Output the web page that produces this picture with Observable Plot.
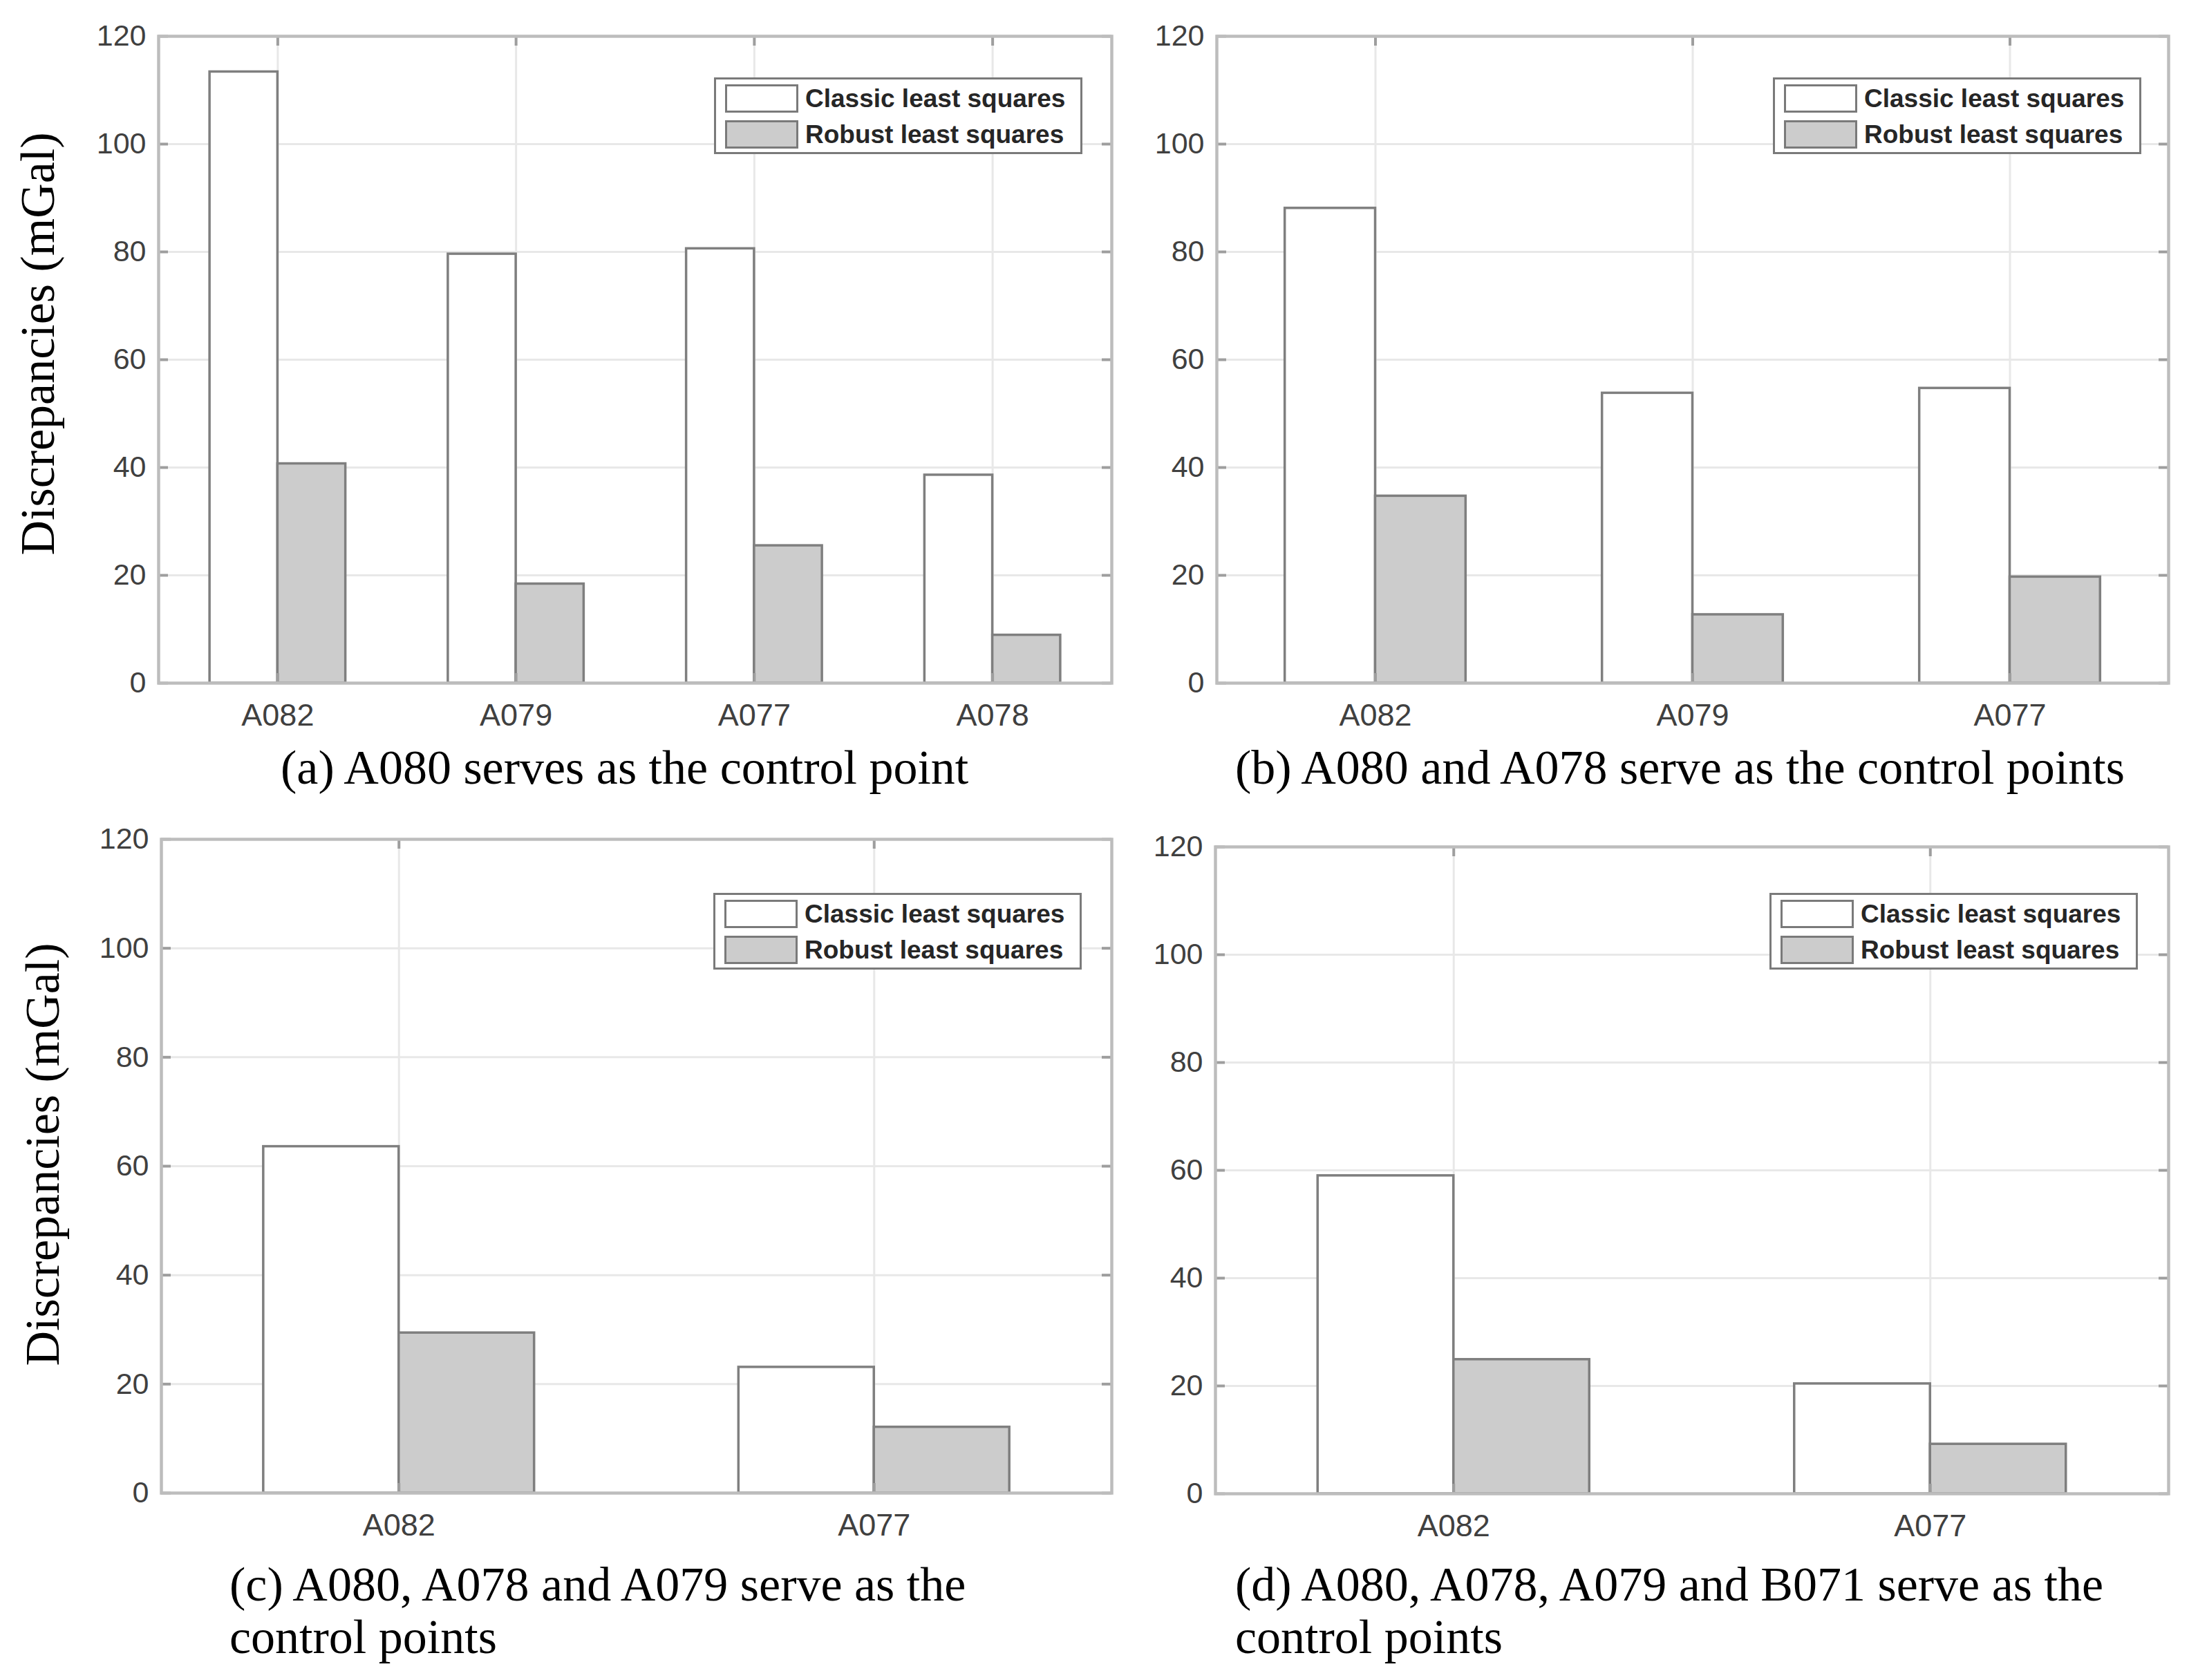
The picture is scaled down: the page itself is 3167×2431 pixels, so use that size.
<!DOCTYPE html>
<html><head><meta charset="utf-8">
<script src="https://cdn.jsdelivr.net/npm/d3@7"></script>
<script src="https://cdn.jsdelivr.net/npm/@observablehq/plot@0.6"></script>
<style>
body{margin:0;background:#fff;}
#page{position:relative;width:3167px;height:2431px;background:#fff;overflow:hidden;}
.panel{position:absolute;}
.legend{position:absolute;box-sizing:border-box;width:533px;height:111px;border:3px solid #7a7a7a;background:#fff;font-family:"Liberation Sans",Arial,sans-serif;font-weight:bold;font-size:37px;color:#262626;}
.legend .row{position:absolute;left:13px;display:flex;align-items:center;height:41px;white-space:nowrap;}
.legend .sw{box-sizing:border-box;width:106px;height:41px;border:3px solid #7a7a7a;margin-right:10px;}
.caption{position:absolute;font-family:"Liberation Serif","Times New Roman",serif;font-size:70px;color:#000;line-height:76px;white-space:nowrap;}
</style></head>
<body><div id="page"></div>
<script>
// ---------- data ----------
const seriesNames = ["Classic least squares", "Robust least squares"];
const seriesFills = ["#ffffff", "#cccccc"];
const yTicks = [0, 20, 40, 60, 80, 100, 120];
const yLabel = "Discrepancies (mGal)";

const catsA = ["A082", "A079", "A077", "A078"];
const classicA = [113.4, 79.6, 80.6, 38.6];
const robustA = [40.7, 18.4, 25.5, 8.9];

const catsB = ["A082", "A079", "A077"];
const classicB = [88.1, 53.8, 54.7];
const robustB = [34.7, 12.7, 19.7];

const catsC = ["A082", "A077"];
const classicC = [63.6, 23.1];
const robustC = [29.4, 12.1];

const catsD = ["A082", "A077"];
const classicD = [59.0, 20.4];
const robustD = [24.9, 9.2];

const captionA = ["(a) A080 serves as the control point"];
const captionB = ["(b) A080 and A078 serve as the control points"];
const captionC = ["(c) A080, A078 and A079 serve as the", "control points"];
const captionD = ["(d) A080, A078, A079 and B071 serve as the", "control points"];

// ---------- layout (page pixels) ----------
const BW = 0.285; // bar width in category units
const layouts = [
  {cats: catsA, classic: classicA, robust: robustA, caption: captionA, label: true,
   frame: {left: 229, right: 1608, top: 52, bottom: 988}, svg: {x: 0, y: 0, w: 1640, h: 1075},
   legend: {x: 1033, y: 112}, cap: {x: 406, base: 1135}, labelDx: -174, labelDy: -23},
  {cats: catsB, classic: classicB, robust: robustB, caption: captionB, label: false,
   frame: {left: 1760, right: 3137, top: 52, bottom: 988}, svg: {x: 1640, y: 0, w: 1527, h: 1075},
   legend: {x: 2565, y: 112}, cap: {x: 1787, base: 1135}},
  {cats: catsC, classic: classicC, robust: robustC, caption: captionC, label: true,
   frame: {left: 233, right: 1608, top: 1214, bottom: 2160}, svg: {x: 0, y: 1150, w: 1640, h: 1090},
   legend: {x: 1032, y: 1292}, cap: {x: 332, base: 2317}, labelDx: -171, labelDy: -17},
  {cats: catsD, classic: classicD, robust: robustD, caption: captionD, label: false,
   frame: {left: 1758, right: 3137, top: 1225, bottom: 2161}, svg: {x: 1640, y: 1150, w: 1527, h: 1090},
   legend: {x: 2560, y: 1292}, cap: {x: 1787, base: 2317}}
];

const page = document.getElementById("page");

function makePlot(L) {
  const cats = L.cats, n = cats.length;
  const pos = cats.map((c, i) => i + 1);
  const rows = [];
  cats.forEach((c, i) => {
    rows.push({pos: i + 1, series: seriesNames[0], value: L.classic[i]});
    rows.push({pos: i + 1, series: seriesNames[1], value: L.robust[i]});
  });
  const F = L.frame, S = L.svg;
  const pw = F.right - F.left, ph = F.bottom - F.top;
  const tl = 14;
  const tickStyle = {stroke: "#9e9e9e", strokeWidth: 4};
  return Plot.plot({
    width: S.w, height: S.h,
    marginLeft: F.left - S.x, marginRight: S.x + S.w - F.right,
    marginTop: F.top - S.y, marginBottom: S.y + S.h - F.bottom,
    style: {fontFamily: "'Liberation Sans', Arial, sans-serif", fontSize: "43px", color: "#404040", background: "white", overflow: "visible"},
    x: {domain: [0.5, n + 0.5]},
    y: {domain: [0, 120]},
    color: {domain: seriesNames, range: seriesFills},
    marks: [
      Plot.gridY(yTicks, {stroke: "#e8e8e8", strokeOpacity: 1, strokeWidth: 3}),
      Plot.gridX(pos, {stroke: "#e8e8e8", strokeOpacity: 1, strokeWidth: 3}),
      Plot.rectY(rows, {
        x1: d => d.series === seriesNames[0] ? d.pos - BW : d.pos,
        x2: d => d.series === seriesNames[0] ? d.pos : d.pos + BW,
        y1: 0, y2: "value", fill: "series", stroke: "#7f7f7f", strokeWidth: 3.5
      }),
      Plot.tickY(yTicks, {y: d => d, insetRight: pw - tl, ...tickStyle}),
      Plot.tickY(yTicks, {y: d => d, insetLeft: pw - tl, ...tickStyle}),
      Plot.tickX(pos, {x: d => d, insetBottom: ph - tl, ...tickStyle}),
      Plot.tickX(pos, {x: d => d, insetTop: ph - tl, ...tickStyle}),
      Plot.frame({stroke: "#bdbdbd", strokeWidth: 4.5}),
      Plot.axisX({ticks: pos, tickFormat: i => cats[i - 1], tickSize: 0, tickPadding: 30, label: null, fontSize: 45}),
      Plot.axisY({ticks: yTicks, tickSize: 0, tickPadding: 18, label: null}),
      L.label ? Plot.text([yLabel], {text: d => d, frameAnchor: "left", textAnchor: "middle", lineAnchor: "middle",
        rotate: -90, dx: L.labelDx, dy: L.labelDy,
        fontFamily: "'Liberation Serif', 'Times New Roman', serif", fontSize: 70, fill: "#000"}) : null
    ]
  });
}

layouts.forEach(L => {
  const wrap = document.createElement("div");
  wrap.className = "panel";
  wrap.style.left = L.svg.x + "px";
  wrap.style.top = L.svg.y + "px";
  wrap.appendChild(makePlot(L));
  page.appendChild(wrap);

  const lg = document.createElement("div");
  lg.className = "legend";
  lg.style.left = L.legend.x + "px";
  lg.style.top = L.legend.y + "px";
  seriesNames.forEach((name, i) => {
    const row = document.createElement("div");
    row.className = "row";
    row.style.top = (7 + i * 52) + "px";
    const sw = document.createElement("div");
    sw.className = "sw";
    sw.style.background = seriesFills[i];
    const tx = document.createElement("span");
    tx.textContent = name;
    row.appendChild(sw); row.appendChild(tx);
    lg.appendChild(row);
  });
  page.appendChild(lg);

  const cap = document.createElement("div");
  cap.className = "caption";
  cap.style.left = L.cap.x + "px";
  cap.style.top = (L.cap.base - 62) + "px";
  L.caption.forEach(line => {
    const d = document.createElement("div");
    d.textContent = line;
    cap.appendChild(d);
  });
  page.appendChild(cap);
});
</script>
</body></html>
